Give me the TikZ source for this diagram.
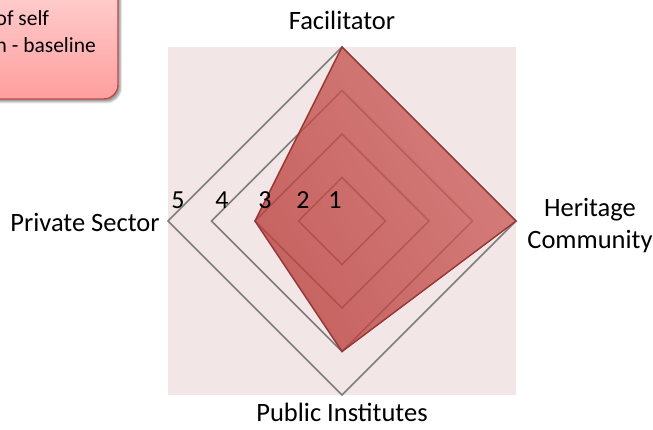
\documentclass[tikz,border=0pt]{standalone}
\usepackage{fontspec}
\setmainfont{Carlito}
\usetikzlibrary{shadows.blur}
\definecolor{plotbg}{RGB}{242,230,230}
\definecolor{gridgray}{RGB}{125,125,125}
\definecolor{seriesA}{RGB}{206,98,95}
\definecolor{seriesB}{RGB}{186,62,59}
\definecolor{seriesedge}{RGB}{150,54,52}
\definecolor{calloutedge}{RGB}{190,75,72}
\definecolor{callouttop}{RGB}{255,220,220}
\definecolor{calloutbot}{RGB}{255,158,158}
\tikzset{
  gridline/.style={draw=gridgray, line width=1.7pt, line join=miter},
  axislbl/.style={font=\fontsize{26.5}{32}\selectfont, inner sep=0pt, text=black},
  ticklbl/.style={font=\fontsize{26}{30}\selectfont, inner sep=0pt, text=black},
  calloutlbl/.style={font=\fontsize{21.5}{24}\selectfont, inner sep=0pt, anchor=base west, text=black},
}
\begin{document}
\begin{tikzpicture}[x=1pt,y=-1pt]
\useasboundingbox (0,0) rectangle (653,430);
% callout (partially off the page)
\begin{scope}
  \clip (0,0) rectangle (653,430);
  \path[draw=calloutedge, line width=1.4pt, rounded corners=14pt,
        top color=callouttop, bottom color=calloutbot,
        blur shadow={shadow xshift=2.5pt, shadow yshift=-3pt, shadow blur steps=6, shadow opacity=40}]
    (-40,-40) rectangle (118,99);
  \node[calloutlbl] (c1) at (-4.5,26) {of self};
  \node[calloutlbl] (c2) at (-4.5,53) {n - baseline};
\end{scope}
% plot area
\fill[plotbg] (168,47) rectangle (516,395);
% grid rings (values 2..5)
\foreach \r in {43.5,87,130.5,174}{
  \draw[gridline] (342-\r,221) -- (342,221-\r) -- (342+\r,221) -- (342,221+\r) -- cycle;
}
% series
\shade[left color=seriesA, right color=seriesB, shading angle=-60, fill opacity=0.78]
  (342,47) -- (516,221) -- (342,351.5) -- (255,221) -- cycle;
\draw[seriesedge, line width=1.4pt, line join=miter]
  (342,47) -- (516,221) -- (342,351.5) -- (255,221) -- cycle;
% axis labels
\node[axislbl] (fac) at (342,20) {Facilitator};
\node[axislbl, align=center] (her) at (590,226) {Heritage\\Community};
\node[axislbl] (priv) at (85,222) {Private Sector};
\node[axislbl] (pub) at (342,412) {Public Institutes};
% tick labels
\node[ticklbl] (t5) at (178,200) {5};
\node[ticklbl] (t4) at (222,200) {4};
\node[ticklbl] (t3) at (265,200) {3};
\node[ticklbl] (t2) at (303,200) {2};
\node[ticklbl] (t1) at (335,200) {1};
\end{tikzpicture}
\end{document}
